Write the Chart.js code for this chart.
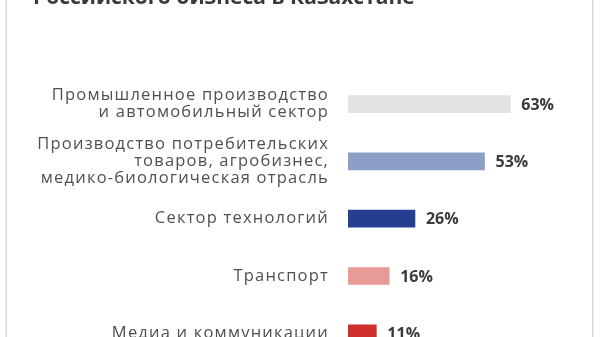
<!DOCTYPE html>
<html>
<head>
<meta charset="utf-8">
<script src="https://cdn.jsdelivr.net/npm/chart.js@4"></script>
<style>
  html, body { margin: 0; padding: 0; background: #fff; overflow: hidden; width: 600px; height: 337px; }
  #frame { position: absolute; left: 6px; top: -10px; width: 585px; height: 400px; border-left: 1px solid #d6d6d6; border-right: 1px solid #d6d6d6; box-shadow: -1px 0 0 #eee, 1px 0 0 #eee; }
  #wrap { position: absolute; left: 0; top: -30px; width: 600px; height: 428px; }
</style>
</head>
<body>
<div id="frame"></div>
<div id="wrap"><canvas id="c"></canvas></div>
<script>
const titleText = "Российского бизнеса в Казахстане";
const categories = [
  ["Промышленное производство", "и автомобильный сектор"],
  ["Производство потребительских", "товаров, агробизнес,", "медико-биологическая отрасль"],
  "Сектор технологий",
  "Транспорт",
  "Медиа и коммуникации"
];
const values = [63, 53, 26, 16, 11];
const barColors = ["#e3e3e3", "#8e9fc7", "#253e8f", "#e89a97", "#d12e2e"];
const xMax = 90;

const FONT = "'Open Sans', 'DejaVu Sans', sans-serif";

const spacing = {
  id: 'spacing',
  beforeDraw(chart) { chart.ctx.letterSpacing = '1.2px'; },
  afterDraw(chart) { chart.ctx.letterSpacing = '0px'; }
};

const valueLabels = {
  id: 'valueLabels',
  afterDatasetsDraw(chart) {
    const ctx = chart.ctx;
    const meta = chart.getDatasetMeta(0);
    ctx.save();
    ctx.letterSpacing = '0px';
    ctx.font = "bold 16px " + FONT;
    ctx.fillStyle = "#3a3a3a";
    ctx.textAlign = "left";
    ctx.textBaseline = "middle";
    meta.data.forEach((bar, i) => {
      ctx.fillText(values[i] + "%", bar.x + 11, bar.y + 1);
    });
    ctx.restore();
  }
};

const cutTitle = {
  id: 'cutTitle',
  afterDraw(chart) {
    const ctx = chart.ctx;
    ctx.save();
    ctx.letterSpacing = '0px';
    ctx.font = "bold 21px " + FONT;
    ctx.fillStyle = "#3a3a3a";
    ctx.textAlign = "left";
    ctx.textBaseline = "alphabetic";
    ctx.fillText(titleText, 33, 34);
    ctx.restore();
  }
};

new Chart(document.getElementById('c'), {
  type: 'bar',
  data: {
    labels: categories,
    datasets: [{
      data: values,
      backgroundColor: barColors,
      borderWidth: 0,
      barThickness: 17
    }]
  },
  options: {
    indexAxis: 'y',
    responsive: true,
    maintainAspectRatio: false,
    animation: false,
    layout: { padding: { top: 105.4, bottom: 0, left: 0, right: 20.2 } },
    plugins: { legend: { display: false }, tooltip: { enabled: false }, title: { display: false } },
    scales: {
      x: { display: false, min: 0, max: xMax },
      y: {
        grid: { display: false, drawTicks: false },
        border: { display: false },
        afterFit(scale) { scale.width = 348; },
        ticks: {
          padding: 19,
          color: "#505050",
          font: { family: FONT, size: 16.5, lineHeight: 1.03 }
        }
      }
    }
  },
  plugins: [spacing, valueLabels, cutTitle]
});
</script>
</body>
</html>
